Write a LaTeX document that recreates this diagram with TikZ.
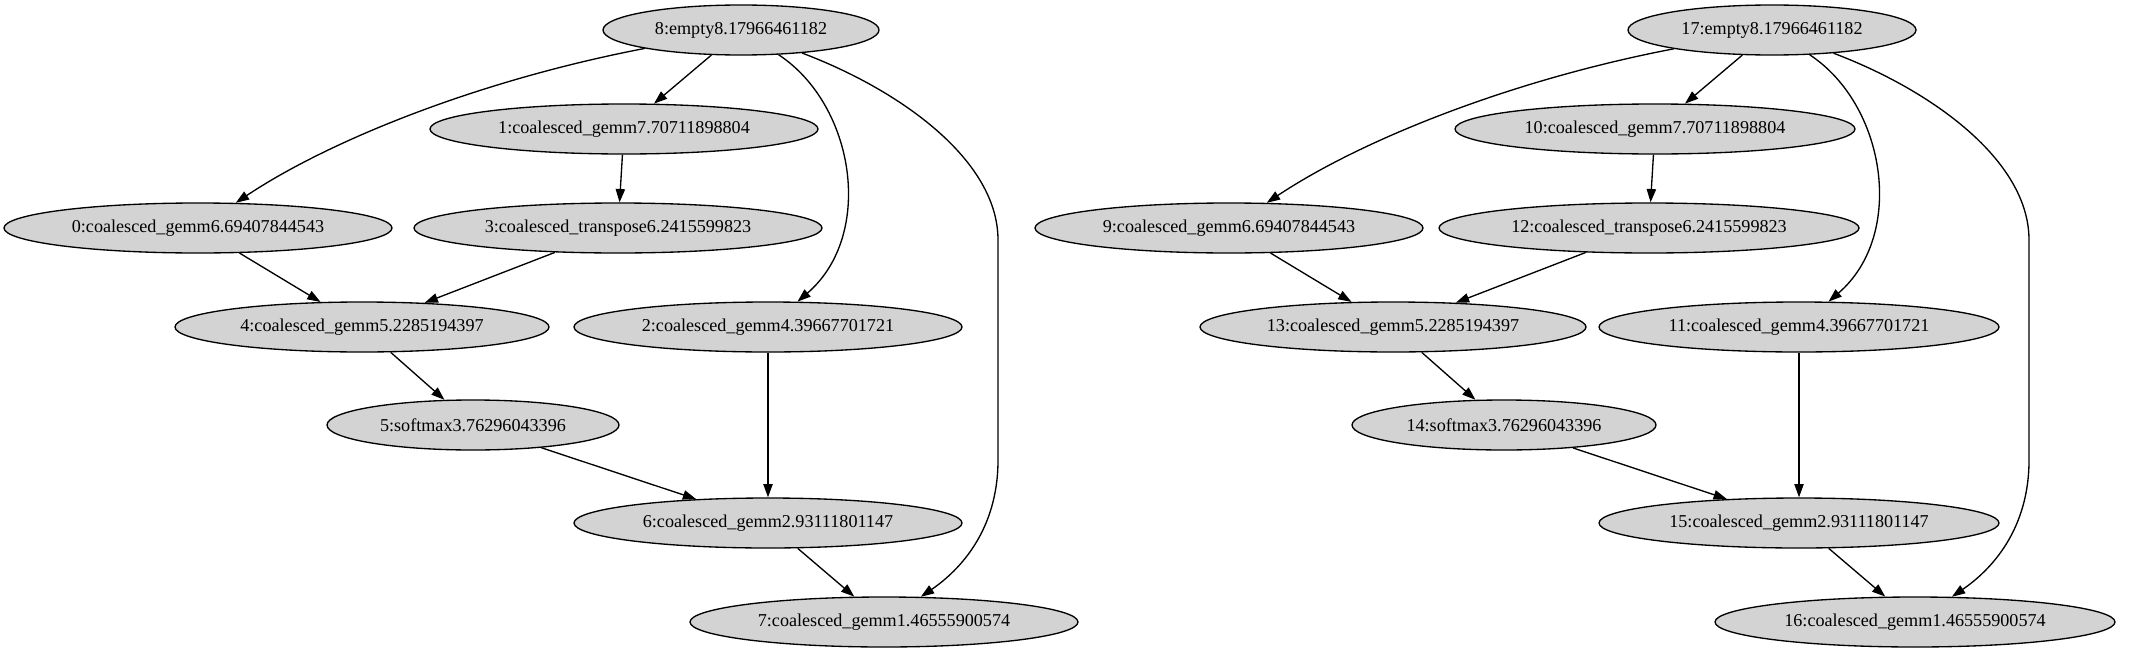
\documentclass[tikz,border=0pt]{standalone}
\usepackage{fontspec}
\setmainfont{Liberation Serif}
\usetikzlibrary{arrows.meta,shapes.geometric}
\definecolor{nodefill}{HTML}{D3D3D3}
\begin{document}
\begin{tikzpicture}[x=0.75pt,y=-0.75pt,
  gnode/.style={ellipse, draw=black, fill=nodefill, inner sep=0pt, line width=1pt,
    minimum height=37.5pt, font=\fontsize{13.6pt}{16pt}\selectfont},
  hw/.style={minimum width=#1*1.5pt},
  arr/.style={line width=1pt, -{Triangle[length=10pt,width=7pt]}}]
\useasboundingbox (0,0) rectangle (2133,653);
% ---------- left graph ----------
\node[gnode,hw=138] (n8) at (741,30) {8:empty8.17966461182};
\node[gnode,hw=194] (n1) at (624,129) {1:coalesced\_gemm7.70711898804};
\node[gnode,hw=194] (n0) at (198,228) {0:coalesced\_gemm6.69407844543};
\node[gnode,hw=204] (n3) at (618,228) {3:coalesced\_transpose6.2415599823};
\node[gnode,hw=187] (n4) at (362,327) {4:coalesced\_gemm5.2285194397};
\node[gnode,hw=194] (n2) at (768,327) {2:coalesced\_gemm4.39667701721};
\node[gnode,hw=146] (n5) at (473,425) {5:softmax3.76296043396};
\node[gnode,hw=194] (n6) at (768,523) {6:coalesced\_gemm2.93111801147};
\node[gnode,hw=194] (n7) at (884,622) {7:coalesced\_gemm1.46555900574};
\draw[arr] (n8) .. controls (480,80) and (330,140) .. (n0);
\draw[arr] (n8) -- (n1);
\draw[arr] (n8) .. controls (855,105) and (875,235) .. (n2);
\draw[arr] (n8) .. controls (900,90) and (998,160) .. (998,240) -- (998,460) .. controls (998,530) and (960,570) .. (n7);
\draw[arr] (n1) -- (n3);
\draw[arr] (n0) -- (n4);
\draw[arr] (n3) -- (n4);
\draw[arr] (n4) -- (n5);
\draw[arr] (n5) -- (n6);
\draw[arr] (n2) -- (n6);
\draw[arr] (n6) -- (n7);
% ---------- right graph ----------
\node[gnode,hw=144] (n17) at (1772,30) {17:empty8.17966461182};
\node[gnode,hw=200] (n10) at (1655,129) {10:coalesced\_gemm7.70711898804};
\node[gnode,hw=194] (n9) at (1229,228) {9:coalesced\_gemm6.69407844543};
\node[gnode,hw=210] (n12) at (1649,228) {12:coalesced\_transpose6.2415599823};
\node[gnode,hw=193] (n13) at (1393,327) {13:coalesced\_gemm5.2285194397};
\node[gnode,hw=200] (n11) at (1799,327) {11:coalesced\_gemm4.39667701721};
\node[gnode,hw=152] (n14) at (1504,425) {14:softmax3.76296043396};
\node[gnode,hw=200] (n15) at (1799,523) {15:coalesced\_gemm2.93111801147};
\node[gnode,hw=200] (n16) at (1915,622) {16:coalesced\_gemm1.46555900574};
\draw[arr] (n17) .. controls (1511,80) and (1361,140) .. (n9);
\draw[arr] (n17) -- (n10);
\draw[arr] (n17) .. controls (1886,105) and (1906,235) .. (n11);
\draw[arr] (n17) .. controls (1931,90) and (2029,160) .. (2029,240) -- (2029,460) .. controls (2029,530) and (1991,570) .. (n16);
\draw[arr] (n10) -- (n12);
\draw[arr] (n9) -- (n13);
\draw[arr] (n12) -- (n13);
\draw[arr] (n13) -- (n14);
\draw[arr] (n14) -- (n15);
\draw[arr] (n11) -- (n15);
\draw[arr] (n15) -- (n16);
\end{tikzpicture}
\end{document}
